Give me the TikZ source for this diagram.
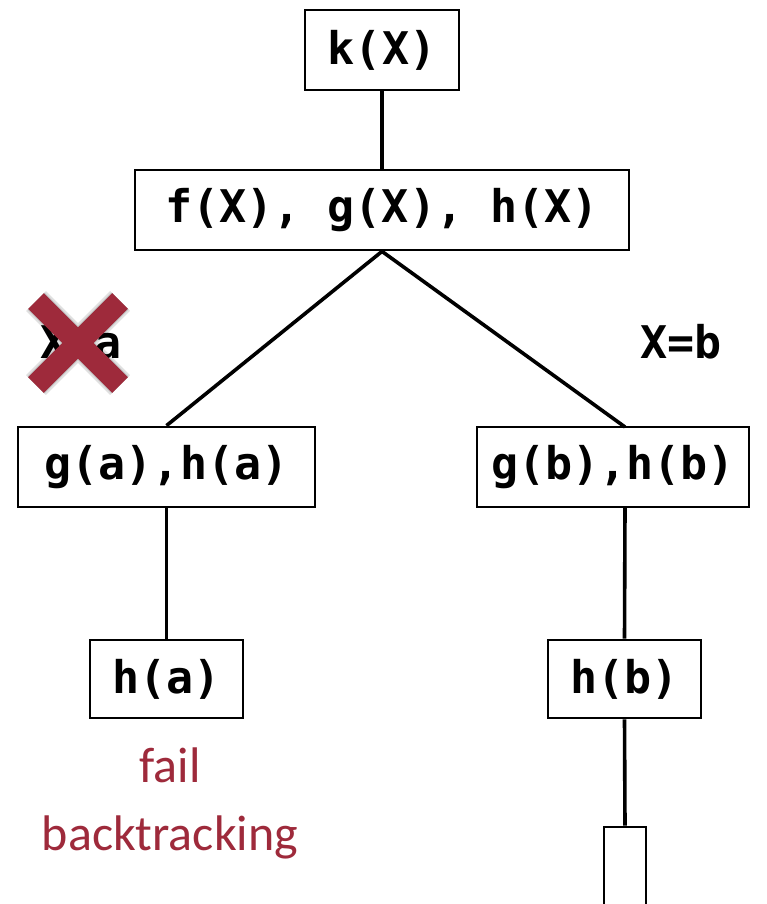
\documentclass[tikz,border=0pt]{standalone}
\usepackage{fontspec}
\newfontfamily\codefont{DejaVu Sans Mono}
\newfontfamily\notefont{Carlito}
\definecolor{failred}{RGB}{158,42,59}
\begin{document}
\begin{tikzpicture}[x=1pt,y=-1pt,
  box/.style={draw=black,line width=2.8pt,inner sep=0pt,fill=white},
  code/.style={font=\codefont\bfseries\fontsize{45}{54}\selectfont},
  note/.style={font=\notefont\fontsize{50}{60}\selectfont,text=failred,inner sep=0pt,anchor=base},
  edge/.style={line width=3.6pt}]
\useasboundingbox (0,0) rectangle (767,904);
\node[box,code,minimum width=154pt,minimum height=80pt] (k) at (382,50) {k(X)};
\node[box,code,minimum width=494pt,minimum height=80pt] (f) at (382,210) {f(X), g(X), h(X)};
\node[box,code,minimum width=297pt,minimum height=80pt] (ga) at (166.5,467) {g(a),h(a)};
\node[box,code,minimum width=272pt,minimum height=80pt] (gb) at (613,467) {g(b),h(b)};
\node[box,code,minimum width=153pt,minimum height=78pt] (ha) at (166.5,679) {h(a)};
\node[box,code,minimum width=153pt,minimum height=78pt] (hb) at (624.5,679) {h(b)};
\node[box,minimum width=42pt,minimum height=100pt] (nx) at (625,877) {};
\coordinate (gbtop) at (625,427);
\coordinate (gbbot) at (625,507);
\draw[edge] (k.south) -- (f.north);
\draw[edge] (f.south) -- (ga.north);
\draw[edge] (f.south) -- (gbtop);
\draw[edge] (ga.south) -- (ha.north);
\draw[edge] (gbbot) -- (hb.north);
\draw[edge] (hb.south) -- (nx.north);
\node[code] (xa) at (81,342) {X=a};
\node[code] (xb) at (681,342) {X=b};
% red cross with soft shadow
\coordinate (c1) at (36,301);
\coordinate (c2) at (120,385);
\coordinate (c3) at (120,301);
\coordinate (c4) at (36,385);
\begin{scope}[shift={(3,4)}]
\draw[black,opacity=0.12,line width=28pt] (c1) -- (c2) (c3) -- (c4);
\draw[black,opacity=0.15,line width=24pt] (c1) -- (c2) (c3) -- (c4);
\end{scope}
\draw[failred,line width=22pt] (c1) -- (c2) (c3) -- (c4);
\node[note] (fail) at (170,782) {fail};
\node[note] (bt) at (170,850) {backtracking};
\end{tikzpicture}
\end{document}
